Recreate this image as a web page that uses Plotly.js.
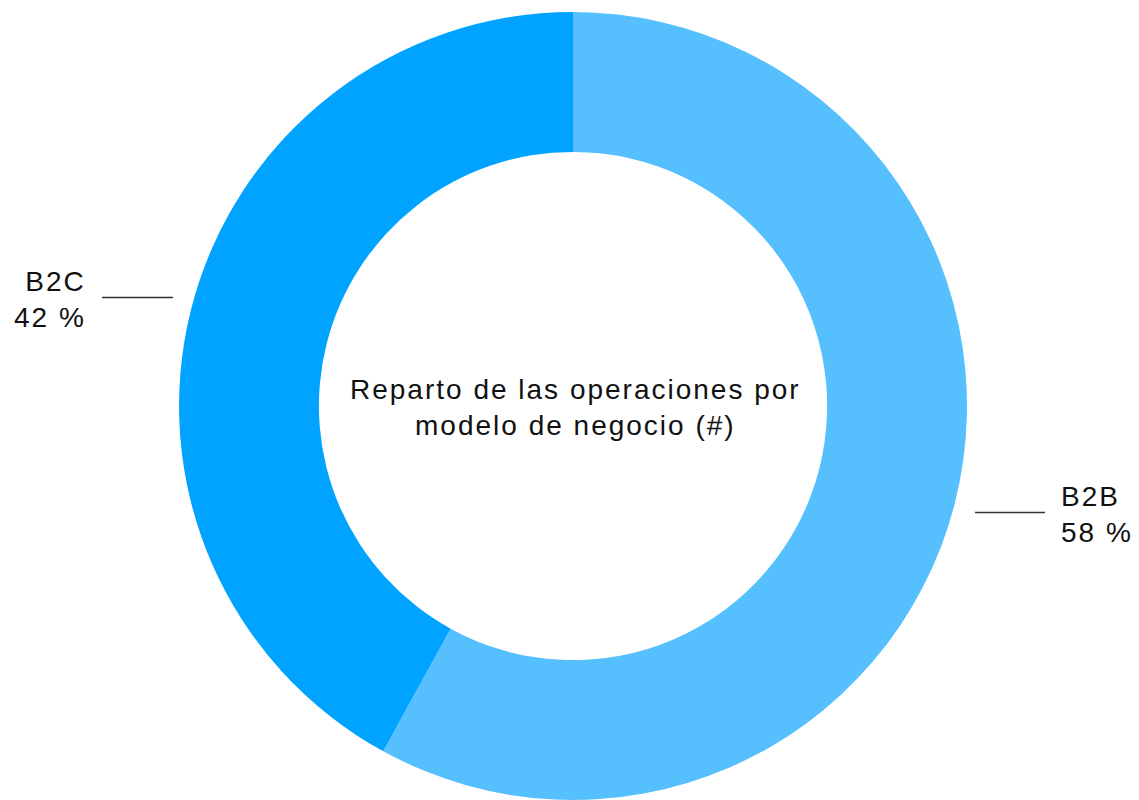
<!DOCTYPE html>
<html>
<head>
<meta charset="utf-8">
<script src="https://cdn.plot.ly/plotly-3.0.1.min.js"></script>
<style>
html,body{margin:0;padding:0;background:#fff;}
#chart{width:1139px;height:800px;}
#chart .annotation-text{letter-spacing:2px;}
</style>
</head>
<body>
<div id="chart"></div>
<script>
const categories = ["B2B", "B2C"];
const values = [58, 42];
const colors = ["#56C0FF", "#00A3FF"];
const centerTitle = "Reparto de las operaciones por<br>modelo de negocio (#)";

const W = 1139, H = 800;
const font = {family: "Liberation Sans, Arial, sans-serif", size: 28, color: "#111"};

const trace = {
  type: "pie",
  labels: categories,
  values: values,
  marker: {colors: colors, line: {width: 0}},
  hole: 0.645,
  sort: false,
  direction: "clockwise",
  rotation: 0,
  textinfo: "none",
  hoverinfo: "label+percent",
  domain: {x: [0.1572, 0.849], y: [0, 0.985]},
  showlegend: false
};

function px(x){return x / W;}
function py(y){return 1 - y / H;}

const layout = {
  width: W, height: H,
  margin: {l: 0, r: 0, t: 0, b: 0},
  paper_bgcolor: "#fff",
  showlegend: false,
  font: font,
  annotations: [
    {text: centerTitle, x: px(575), y: py(407), xref: "paper", yref: "paper",
     showarrow: false, font: font, align: "center", xanchor: "center", yanchor: "middle"},
    {text: categories[1] + "<br>" + values[1] + " %", x: px(88), y: py(299), xref: "paper", yref: "paper",
     showarrow: false, font: font, align: "right", xanchor: "right", yanchor: "middle"},
    {text: categories[0] + "<br>" + values[0] + " %", x: px(1059), y: py(514), xref: "paper", yref: "paper",
     showarrow: false, font: font, align: "left", xanchor: "left", yanchor: "middle"}
  ],
  shapes: [
    {type: "line", xref: "paper", yref: "paper", x0: px(102), x1: px(173), y0: py(297.5), y1: py(297.5),
     line: {color: "#333", width: 1.5}},
    {type: "line", xref: "paper", yref: "paper", x0: px(975), x1: px(1045), y0: py(512.5), y1: py(512.5),
     line: {color: "#333", width: 1.5}}
  ]
};

Plotly.newPlot("chart", [trace], layout, {displayModeBar: false, staticPlot: true});
</script>
</body>
</html>
